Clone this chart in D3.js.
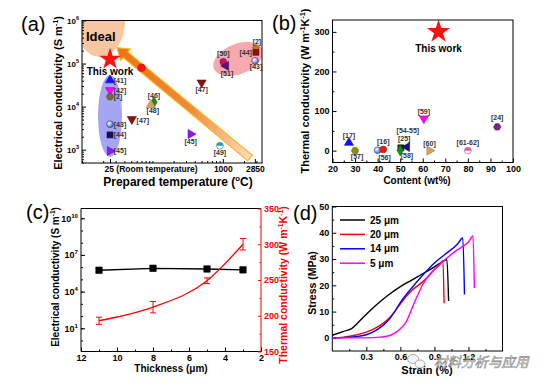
<!DOCTYPE html>
<html>
<head>
<meta charset="utf-8">
<script src="https://cdn.jsdelivr.net/npm/d3@7"></script>
<style>
  body { margin: 0; background: #fff; }
  svg text { font-family: "Liberation Sans", Arial, sans-serif; font-weight: bold; }
</style>
</head>
<body>
<svg id="fig" width="546" height="387"></svg>
<script>
// ---------- (a) electrical conductivity vs prepared temperature ----------
const refsA  = ["[41]","[42]","[2]","[43]","[44]","[45]","[47]","[46]","[48]","","[45]","[49]","[47]","[50]","[51]","[2]","[44]","[43]"];
const tempA  = [25, 25, 25, 25, 25, 25, 51, 105, 95, 70, 350, 910, 500, 1015, 1110, 2950, 2950, 2870];
const sigmaA = [4.1e4, 2.4e4, 1.7e4, 3.9e3, 2.2e3, 930, 5.1e3, 1.26e4, 1.1e4, 8e4, 2.3e3, 1.23e3, 3.6e4, 1.1e5, 8.8e4, 2.26e5, 1.82e5, 1.16e5];
const thisWorkA = [25, 1.26e5];
const tempTicksA = [25, 1000, 2850];
const sigmaTicksA = [1e3, 1e4, 1e5, 1e6];
// regions drawn behind the points, in data units
const idealA = {temp: 18, sigma: 1e6, tempEdge: 41, sigmaEdge: 1.42e5};
const blueA = {temp: 25, sigma: 6.05e3, tempEdge: 37, sigmaEdge: 5.4e4};
const pinkA = {temp: 1645, sigma: 1.28e5, tempEdge: 3850, sigmaEdge: 5.7e4};
const arrowA = {from: [2430, 640], to: [31.4, 2.33e5]};

// ---------- (b) thermal conductivity vs content ----------
const refsB = ["[17]","[57]","[56]","[16]","[54-55]","[25]","[58]","[59]","[60]","[61-62]","[24]"];
const contentB = [27.3, 30, 40, 42.5, 50.3, 50, 53, 60.5, 63, 80, 93];
const kappaB = [20, 0, 1, 3, 7, 1, 9, 81, 0, 0, 60];
const thisWorkB = [67, 300];

// ---------- (c) vs thickness ----------
const thickC = [11, 8, 5, 3];
const elecC = [5.6e5, 8.1e5, 7.1e5, 6e5];
const thermC = [193, 212, 249, 300];
const thermErrC = [5, 8, 4, 8];

// ---------- (d) stress-strain ----------
const legendD = ["25 μm", "20 μm", "14 μm", "5 μm"];
const strainD = [
  [0, 0.1, 0.17, 0.22, 0.3, 0.4, 0.5, 0.6, 0.7, 0.8, 0.9, 0.97, 1.0, 1.01, 1.025],
  [0, 0.1, 0.2, 0.3, 0.4, 0.5, 0.55, 0.6, 0.7, 0.8, 0.9, 0.95, 0.975, 0.985],
  [0, 0.1, 0.2, 0.3, 0.4, 0.5, 0.55, 0.6, 0.7, 0.8, 0.9, 1.0, 1.1, 1.15, 1.165],
  [0, 0.2, 0.4, 0.5, 0.55, 0.6, 0.65, 0.7, 0.75, 0.8, 0.9, 1.0, 1.1, 1.2, 1.24, 1.252]
];
const stressD = [
  [1, 2.5, 3.5, 5.5, 9, 13, 16.5, 19.5, 22, 24.5, 27, 29, 29.7, 29.8, 14],
  [0, 0.3, 1, 2.2, 4.2, 7.5, 10, 13, 18, 21.5, 26, 28, 29.5, 13.2],
  [0, 0.1, 0.4, 1.2, 3.2, 7, 10, 13.5, 19, 24, 28.5, 32, 35.5, 38, 16.5],
  [0, 0, 0.2, 0.8, 1.8, 3.5, 6, 11, 16, 20.5, 26, 30, 33.5, 36.5, 38.8, 19]
];

// ---------- marker styles ----------
const shapeA = ["triU","triD","hex","sph","sq","triR","triD","dia","triU","circ","triR","half","triD","circ","triL","pent","sq","sph"];
const colorA = ["#1010ff","#ff00ff","#6e6e3a","#2a5fc0","#14145a","#8a14ff","#8b1010","#1a8a1a","#d9a25a","#ff1010","#8a14ff","#2aa0a8","#8b1010","#c8106a","#5a147a","#c87a10","#8b1010","#6a50b0"];
const labelOffA = [[10,0],[10,0],[8,0],[10,0],[10,0],[10,0],[11,1],[0,-7],[2,6],[0,0],[0,7],[0,7],[0,7],[0,-8],[1,8],[1,-7],[-11,0],[1,6]];
const shapeB = ["triU","hex","sph","circ","sq","dia","triL","triD","triR","half","hex"];
const colorB = ["#1010ff","#8a8a10","#2a5fc0","#ff1010","#111111","#1a8a1a","#14147a","#ff00ff","#d9a25a","#e060a0","#80208a"];
const labelOffB = [[0,-7],[2,6],[7,7],[0,-8],[7,-17],[4,-12],[0,8],[0,-7],[0,-7],[0,-8],[0,-9]];
const colorD = ["#000000", "#ff0000", "#0000ff", "#ff00ff"];

const svg = d3.select("#fig");
const defs = svg.append("defs");

function clip(id, x0, x1, y0, y1) {
  defs.append("clipPath").attr("id", id).append("rect")
    .attr("x", x0).attr("y", y0).attr("width", x1 - x0).attr("height", y1 - y0);
}

function polySym(n, a0) {
  return {draw(ctx, size) {
    const r = Math.sqrt(size / 2.6);
    for (let i = 0; i < n; i++) {
      const a = a0 + 2 * Math.PI * i / n;
      const px = r * Math.sin(a), py = -r * Math.cos(a);
      if (i) ctx.lineTo(px, py); else ctx.moveTo(px, py);
    }
    ctx.closePath();
  }};
}
const hexSym = polySym(6, Math.PI / 6), pentSym = polySym(5, 0);

let gradN = 0;
function sphereFill(color) {
  const id = "sph" + (gradN++);
  const gr = defs.append("radialGradient").attr("id", id)
    .attr("cx", "35%").attr("cy", "35%").attr("r", "70%");
  gr.append("stop").attr("offset", "0%").attr("stop-color", "#fff");
  gr.append("stop").attr("offset", "100%").attr("stop-color", color);
  return `url(#${id})`;
}

const symTypes = {
  triU: [d3.symbolTriangle, 0], triD: [d3.symbolTriangle, 180], triL: [d3.symbolTriangle, -90],
  triR: [d3.symbolTriangle, 90], sq: [d3.symbolSquare, 0], dia: [d3.symbolDiamond, 0],
  circ: [d3.symbolCircle, 0], sph: [d3.symbolCircle, 0], half: [d3.symbolCircle, 0],
  hex: [hexSym, 0], pent: [pentSym, 0], star: [d3.symbolStar, 0]
};

function marker(g, x, y, shape, color, size = 40) {
  const [t, r] = symTypes[shape];
  const edge = d3.color(color).darker(0.8);
  const fill = shape === "sph" ? sphereFill(color) : shape === "half" ? "#fff" : color;
  g.append("path").attr("d", d3.symbol(t, size)())
    .attr("transform", `translate(${x},${y}) rotate(${r})`)
    .attr("fill", fill).attr("stroke", shape === "star" ? "none" : edge).attr("stroke-width", 0.6);
  if (shape === "half") {
    const rr = Math.sqrt(size / Math.PI);
    g.append("path").attr("d", d3.arc()({innerRadius: 0, outerRadius: rr, startAngle: -Math.PI / 2, endAngle: Math.PI / 2}))
      .attr("transform", `translate(${x},${y})`).attr("fill", color);
  }
}

function frame(g, x0, x1, y0, y1) {
  g.append("rect").attr("x", x0).attr("y", y0).attr("width", x1 - x0).attr("height", y1 - y0)
    .attr("fill", "none").attr("stroke", "#000").attr("stroke-width", 1);
}

function drawAxis(g, axisFn, scale, pos, major, minor, fmt, fs, opts = {}) {
  const tr = (axisFn === d3.axisBottom) ? `translate(0,${pos})` : `translate(${pos},0)`;
  const len = opts.len ?? -4;
  const col = opts.color || "#000";
  const ax = g.append("g").attr("transform", tr)
    .call(axisFn(scale).tickValues(major).tickSizeInner(len).tickSizeOuter(0)
      .tickPadding(opts.pad ?? 3).tickFormat(fmt));
  ax.select(".domain").remove();
  ax.selectAll("text").attr("font-size", fs).attr("fill", col);
  ax.selectAll("line").attr("stroke", col);
  if (minor) {
    const mi = g.append("g").attr("transform", tr)
      .call(axisFn(scale).tickValues(minor).tickSizeInner(len / 2).tickSizeOuter(0).tickFormat(""));
    mi.select(".domain").remove();
    mi.selectAll("line").attr("stroke", col);
  }
  return ax;
}

function powLabels(ax, fs) {
  ax.selectAll(".tick text").text("10").append("tspan")
    .attr("dy", -fs * 0.45).attr("font-size", fs * 0.68).text(d => Math.round(Math.log10(d)));
}

function title(g, x, y, rot, parts, fs, color = "#000") {
  const t = g.append("text").attr("transform", `translate(${x},${y}) rotate(${rot})`)
    .attr("text-anchor", "middle").attr("font-size", fs).attr("fill", color);
  let up = false;
  parts.forEach(([s, sup]) => {
    const sp = t.append("tspan").text(s).attr("font-size", sup ? fs * 0.65 : fs);
    if (sup && !up) sp.attr("dy", -fs * 0.4);
    if (!sup && up) sp.attr("dy", fs * 0.4);
    up = !!sup;
  });
}

function panelLetter(x, y, s) {
  svg.append("text").attr("x", x).attr("y", y).attr("font-size", 20)
    .style("font-weight", "normal").text(s);
}

function logMinor(scale) {
  return scale.ticks().filter(v => Math.abs(Math.log10(v) - Math.round(Math.log10(v))) > 1e-6);
}

// ================= panel (a) =================
const xA = d3.scaleLog().domain([10, 3600]).range([82, 262]);
const yA = d3.scaleLog().domain([10 ** 2.69, 1e6]).range([163, 20.5]);
clip("clipA", 82, 262, 20.5, 163);
const gA = svg.append("g");
const plotA = gA.append("g").attr("clip-path", "url(#clipA)");

function region(g, reg, fill, opacity, rot = 0) {
  const cx = xA(reg.temp), cy = yA(reg.sigma);
  g.append("ellipse").attr("cx", cx).attr("cy", cy)
    .attr("rx", Math.abs(xA(reg.tempEdge) - cx)).attr("ry", Math.abs(yA(reg.sigmaEdge) - cy))
    .attr("transform", `rotate(${rot},${cx},${cy})`)
    .attr("fill", fill).attr("opacity", opacity);
}
region(plotA, idealA, "#f8c6a0", 1);
region(plotA, blueA, "#8f8ff0", 0.8);
region(plotA, pinkA, "#f5a0a6", 0.9, -22);

// big arrow
{
  const T = [xA(arrowA.from[0]), yA(arrowA.from[1])], H = [xA(arrowA.to[0]), yA(arrowA.to[1])];
  const L = Math.hypot(H[0] - T[0], H[1] - T[1]);
  const u = [(H[0] - T[0]) / L, (H[1] - T[1]) / L], n = [-u[1], u[0]];
  const w = 3.6, hw = 7.5, hl = 11;
  const B = [H[0] - u[0] * hl, H[1] - u[1] * hl];
  const P = (p, k) => [p[0] + n[0] * k, p[1] + n[1] * k];
  const pts = [P(T, w), P(B, w), P(B, hw), H, P(B, -hw), P(B, -w), P(T, -w)];
  const gr = defs.append("linearGradient").attr("id", "arrowGrad").attr("gradientUnits", "userSpaceOnUse")
    .attr("x1", H[0]).attr("y1", H[1]).attr("x2", T[0]).attr("y2", T[1]);
  gr.append("stop").attr("offset", "0%").attr("stop-color", "#ec7410");
  gr.append("stop").attr("offset", "55%").attr("stop-color", "#f08a3a");
  gr.append("stop").attr("offset", "100%").attr("stop-color", "#fcdcc0");
  plotA.append("path").attr("d", "M" + pts.map(p => p.join(",")).join("L") + "Z")
    .attr("fill", "url(#arrowGrad)").attr("stroke", "#f8b820").attr("stroke-width", 1.2);
}

frame(gA, 82, 262, 20.5, 163);
{
  const ay = drawAxis(gA, d3.axisLeft, yA, 82, sigmaTicksA, logMinor(yA), "", 8);
  powLabels(ay, 8);
  const minorX = xA.ticks().filter(v => !tempTicksA.includes(v));
  const ax = drawAxis(gA, d3.axisBottom, xA, 163, tempTicksA, minorX, d => d, 8.5);
  ax.selectAll(".tick text").filter(d => d === 25)
    .text("25 (Room temperature)").attr("text-anchor", "start").attr("dx", -6);
}

tempA.forEach((t, i) => {
  const x = xA(t), y = yA(sigmaA[i]);
  marker(gA, x, y, shapeA[i], colorA[i], i === 9 ? 45 : 36);
  if (refsA[i]) {
    const [dx, dy] = labelOffA[i];
    gA.append("text").attr("x", x + dx).attr("y", y + dy).attr("dy", "0.35em")
      .attr("text-anchor", dx < -3 ? "end" : "middle").attr("font-size", 7).attr("fill", "#333")
      .text(refsA[i]).attr("dx", dx < -3 ? 7 : 0);
  }
});
marker(gA, xA(thisWorkA[0]), yA(thisWorkA[1]), "star", "#ff1010", 150);
gA.append("text").attr("x", xA(thisWorkA[0])).attr("y", yA(thisWorkA[1]) + 16)
  .attr("text-anchor", "middle").attr("font-size", 10).text("This work");
gA.append("text").attr("x", 86).attr("y", 41).attr("font-size", 13).text("Ideal");

title(gA, 62, 93, -90, [["Electrical conductivity (S m", 0], ["-1", 1], [")", 0]], 11);
title(gA, 178, 186, 0, [["Prepared temperature (", 0], ["o", 1], ["C)", 0]], 12);
panelLetter(21, 31, "(a)");

// ================= panel (b) =================
const xB = d3.scaleLinear().domain([20, 100]).range([332.5, 513]);
const yB = d3.scaleLinear().domain([-30, 330]).range([162.5, 20]);
const gB = svg.append("g");
frame(gB, 332.5, 513, 20, 162.5);
drawAxis(gB, d3.axisLeft, yB, 332.5, [0, 100, 200, 300], [50, 150, 250], d => d, 9);
drawAxis(gB, d3.axisBottom, xB, 162.5, d3.range(20, 101, 10), d3.range(25, 100, 10), d => d, 9);

contentB.forEach((c, i) => {
  const x = xB(c), y = yB(kappaB[i]);
  marker(gB, x, y, shapeB[i], colorB[i], 36);
  const [dx, dy] = labelOffB[i];
  gB.append("text").attr("x", x + dx).attr("y", y + dy).attr("dy", "0.35em")
    .attr("text-anchor", "middle").attr("font-size", 7).attr("fill", "#333").text(refsB[i]);
});
marker(gB, xB(thisWorkB[0]), yB(thisWorkB[1]), "star", "#ff1010", 170);
gB.append("text").attr("x", xB(thisWorkB[0])).attr("y", yB(thisWorkB[1]) + 20)
  .attr("text-anchor", "middle").attr("font-size", 10).text("This work");

title(gB, 309, 91, -90, [["Thermal conductivity (W m", 0], ["-1", 1], ["K", 0], ["-1", 1], [")", 0]], 11);
title(gB, 417, 184, 0, [["Content (wt%)", 0]], 10);
panelLetter(272, 30, "(b)");

// ================= panel (c) =================
const xC = d3.scaleLinear().domain([12, 2]).range([81, 261]);
const yCL = d3.scaleLog().domain([10 ** -0.9, 10 ** 10.8]).range([351.5, 208.5]);
const yCR = d3.scaleLinear().domain([150, 350]).range([351.5, 208.5]);
const gC = svg.append("g");
gC.append("path").attr("d", "M261,208.5H81V351.5H261").attr("fill", "none").attr("stroke", "#000");
gC.append("line").attr("x1", 261).attr("x2", 261).attr("y1", 208.5).attr("y2", 351.5).attr("stroke", "#ff0000");
{
  const ay = drawAxis(gC, d3.axisLeft, yCL, 81, [1e1, 1e4, 1e7, 1e10], d3.range(0, 11).map(e => 10 ** e), "", 9);
  powLabels(ay, 9);
  drawAxis(gC, d3.axisBottom, xC, 351.5, [12, 10, 8, 6, 4, 2], [11, 9, 7, 5, 3], d => d, 9);
  drawAxis(gC, d3.axisRight, yCR, 261, [150, 200, 250, 300, 350], [175, 225, 275, 325], d => d, 9,
    {color: "#ff0000", len: -3, pad: 3});
}
gC.append("path").datum(thickC)
  .attr("d", d3.line().x(d => xC(d)).y((d, i) => yCL(elecC[i])))
  .attr("fill", "none").attr("stroke", "#000").attr("stroke-width", 1.3);
thickC.forEach((t, i) => marker(gC, xC(t), yCL(elecC[i]), "sq", "#000", 42));
gC.append("path").datum(thickC)
  .attr("d", d3.line().x(d => xC(d)).y((d, i) => yCR(thermC[i])).curve(d3.curveMonotoneX))
  .attr("fill", "none").attr("stroke", "#ff0000").attr("stroke-width", 1.3);
thickC.forEach((t, i) => {
  const x = xC(t), y0 = yCR(thermC[i] - thermErrC[i]), y1 = yCR(thermC[i] + thermErrC[i]);
  gC.append("path").attr("d", `M${x},${y0}V${y1}M${x - 3},${y0}H${x + 3}M${x - 3},${y1}H${x + 3}`)
    .attr("stroke", "#ff0000").attr("stroke-width", 1).attr("fill", "none");
});
title(gC, 59, 277, -90, [["Electrical conductivity (S m", 0], ["-1", 1], [")", 0]], 10);
title(gC, 171, 372, 0, [["Thickness (μm)", 0]], 10);
title(gC, 287, 285, -90, [["Thermal conductivity (W m", 0], ["-1", 1], ["K", 0], ["-1", 1], [")", 0]], 10.5, "#ff0000");
panelLetter(26, 219, "(c)");

// ================= panel (d) =================
const xD = d3.scaleLinear().domain([0, 1.5]).range([332.3, 502.5]);
const yD = d3.scaleLinear().domain([-5, 50]).range([351, 206.5]);
const gD = svg.append("g");
frame(gD, 332.3, 502.5, 206.5, 351);
drawAxis(gD, d3.axisLeft, yD, 332.3, d3.range(0, 51, 10), d3.range(5, 50, 10), d => d, 9);
drawAxis(gD, d3.axisBottom, xD, 351, [0.3, 0.6, 0.9, 1.2], [0.15, 0.45, 0.75, 1.05, 1.35], d => d.toFixed(1), 9);
strainD.forEach((s, k) => {
  gD.append("path").datum(s)
    .attr("d", d3.line().x(d => xD(d)).y((d, i) => yD(stressD[k][i])).curve(d3.curveMonotoneX))
    .attr("fill", "none").attr("stroke", colorD[k]).attr("stroke-width", 1.4);
});
legendD.forEach((l, k) => {
  const y = 220 + k * 14.4;
  gD.append("line").attr("x1", 340).attr("x2", 365).attr("y1", y).attr("y2", y)
    .attr("stroke", colorD[k]).attr("stroke-width", 1.5);
  gD.append("text").attr("x", 370).attr("y", y + 3.6).attr("font-size", 10).text(l);
});
title(gD, 315.5, 283, -90, [["Stress (MPa)", 0]], 10.5);
title(gD, 427, 374, 0, [["Strain (%)", 0]], 11);
panelLetter(293, 220, "(d)");

// ---------- watermark ----------
const wm = svg.append("g").attr("opacity", 0.85);
wm.append("ellipse").attr("cx", 413).attr("cy", 359).attr("rx", 5.5).attr("ry", 4.5)
  .attr("fill", "#f4f4f4").attr("stroke", "#888").attr("stroke-width", 0.8);
wm.append("ellipse").attr("cx", 420).attr("cy", 364).attr("rx", 5).attr("ry", 4)
  .attr("fill", "#f4f4f4").attr("stroke", "#888").attr("stroke-width", 0.8);
wm.append("text").attr("x", 434).attr("y", 367).attr("font-size", 13.5)
  .style("font-family", "'Noto Sans CJK SC', sans-serif").style("font-weight", "normal").style("font-style", "italic")
  .attr("fill", "#eeeeee").attr("stroke", "#777").attr("stroke-width", 0.6).text("材料分析与应用");
</script>
</body>
</html>
